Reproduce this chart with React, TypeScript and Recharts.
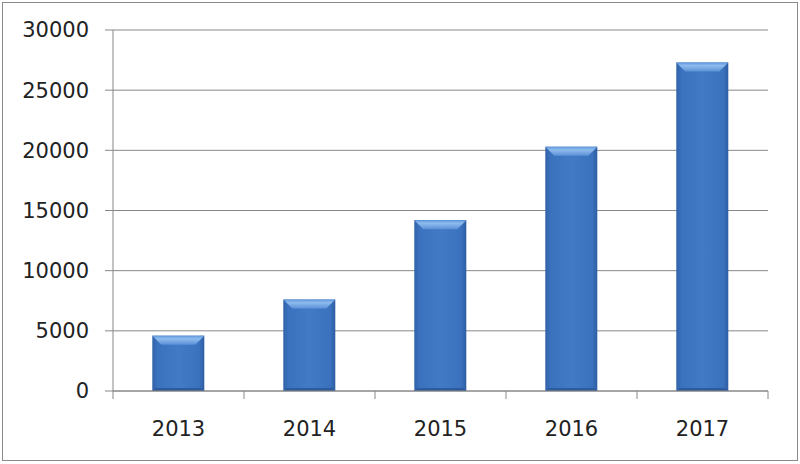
import { BarChart, Bar, XAxis, YAxis, CartesianGrid } from 'recharts'

const years = ['2013', '2014', '2015', '2016', '2017']
const values = [4600, 7600, 14200, 20300, 27300]
const yTicks = [0, 5000, 10000, 15000, 20000, 25000, 30000]

const chartData = years.map((year, i) => ({ year, value: values[i] }))

const FONT = "'DejaVu Sans', sans-serif"
const AXIS = '#888888'

// bevelled excel-style column
const BevelBar = (props: any) => {
  const { x, y, width, height } = props
  if (!height || height <= 0) return null
  const b = Math.min(9, height / 3)
  return (
    <g>
      <rect x={x} y={y} width={width} height={height} fill="url(#barBody)" />
      <polygon
        points={`${x},${y} ${x + width},${y} ${x + width - b},${y + b} ${x + b},${y + b}`}
        fill="url(#barTop)"
      />
      <polygon
        points={`${x},${y + height} ${x + width},${y + height} ${x + width - 3},${y + height - 3} ${x + 3},${y + height - 3}`}
        fill="#2d5b9c"
      />
    </g>
  )
}

const YearTick = (props: any) => {
  const { x, y, payload, index, width, visibleTicksCount } = props
  const bw = width / visibleTicksCount
  const axisY = y - 30
  return (
    <g>
      <line x1={x - bw / 2} x2={x - bw / 2} y1={axisY} y2={axisY + 8} stroke={AXIS} />
      {index === visibleTicksCount - 1 && (
        <line x1={x + bw / 2} x2={x + bw / 2} y1={axisY} y2={axisY + 8} stroke={AXIS} />
      )}
      <text x={x} y={y} dy="0.71em" textAnchor="middle" fill="#222" fontSize={21} fontFamily={FONT}>
        {payload.value}
      </text>
    </g>
  )
}

export default function App() {
  return (
    <div style={{ position: 'absolute', left: 0, top: 0, width: 800, height: 464, background: '#fff' }}>
      <div
        style={{
          position: 'absolute', left: 2, top: 2, width: 794, height: 457,
          border: '1px solid #8a8a8a',
        }}
      />
      <BarChart
        width={800}
        height={464}
        data={chartData}
        margin={{ top: 30, right: 32, left: 0, bottom: 0 }}
        barCategoryGap="30%"
      >
        <defs>
          <linearGradient id="barBody" x1="0" y1="0" x2="1" y2="0">
            <stop offset="0%" stopColor="#3062a8" />
            <stop offset="10%" stopColor="#3b72be" />
            <stop offset="50%" stopColor="#427ac6" />
            <stop offset="90%" stopColor="#3b72be" />
            <stop offset="100%" stopColor="#2e5da2" />
          </linearGradient>
          <linearGradient id="barTop" x1="0" y1="0" x2="0" y2="1">
            <stop offset="0%" stopColor="#5f96dc" />
            <stop offset="35%" stopColor="#8fbcee" />
            <stop offset="100%" stopColor="#5b91d6" />
          </linearGradient>
        </defs>
        <CartesianGrid vertical={false} stroke={AXIS} strokeWidth={1} />
        <XAxis
          dataKey="year"
          height={73}
          axisLine={{ stroke: AXIS }}
          tickLine={false}
          tickSize={8}
          tickMargin={22}
          interval={0}
          tick={<YearTick />}
        />
        <YAxis
          width={113}
          domain={[0, 30000]}
          ticks={yTicks}
          interval={0}
          axisLine={{ stroke: AXIS }}
          tickLine={{ stroke: AXIS }}
          tickSize={8}
          tickMargin={16}
          tick={{ fill: '#222', fontSize: 21, fontFamily: FONT }}
        />
        <Bar dataKey="value" shape={<BevelBar />} isAnimationActive={false} />
      </BarChart>
    </div>
  )
}
